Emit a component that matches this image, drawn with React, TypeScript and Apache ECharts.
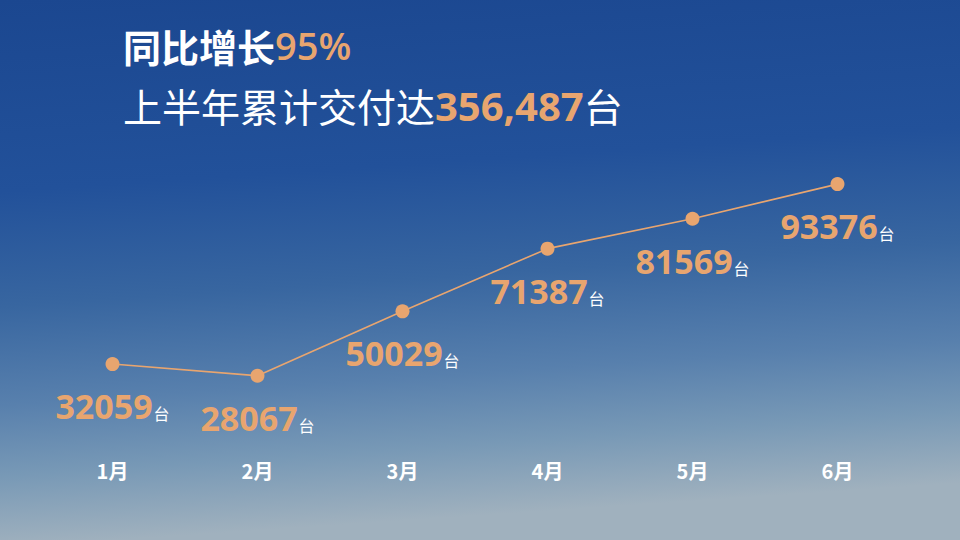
import * as echarts from 'echarts';
import { useEffect, useRef } from 'react';

const months = ['1月', '2月', '3月', '4月', '5月', '6月'];
const deliveries = [32059, 28067, 50029, 71387, 81569, 93376];
const growthRate = '95%';
const halfYearTotal = '356,487';

const orange = '#e8a56f';
const numFont = '"Open Sans", "Noto Sans", sans-serif';
const cjkFont = '"Noto Sans CJK SC", "Noto Sans", sans-serif';

export default function App() {
    const chartRef = useRef<HTMLDivElement>(null);

    useEffect(() => {
        if (!chartRef.current) return;
        document.body.style.margin = '0';

        const chart = echarts.init(chartRef.current, undefined, { renderer: 'svg' });

        const option: echarts.EChartsOption = {
            animation: false,
            backgroundColor: new echarts.graphic.LinearGradient(0, 0, 0.12, 1, [
                { offset: 0, color: '#1b4790' },
                { offset: 0.35, color: '#22519a' },
                { offset: 0.56, color: '#3866a0' },
                { offset: 0.74, color: '#5880ad' },
                { offset: 0.87, color: '#7899b6' },
                { offset: 1, color: '#a0b1be' },
            ]),
            title: [
                {
                    text: `{w|同比增长}{o|${growthRate}}`,
                    left: 118,
                    top: 21,
                    textStyle: {
                        rich: {
                            w: { color: '#ffffff', fontSize: 38, fontWeight: 'bold', fontFamily: cjkFont },
                            o: { color: orange, fontSize: 38, fontWeight: 600, fontFamily: numFont },
                        },
                    },
                },
                {
                    text: `{w|上半年累计交付达}{o|${halfYearTotal}}{w|台}`,
                    left: 118,
                    top: 80,
                    textStyle: {
                        rich: {
                            w: { color: '#ffffff', fontSize: 39, fontWeight: 'normal', fontFamily: cjkFont },
                            o: { color: orange, fontSize: 40, fontWeight: 'bold', fontFamily: numFont },
                        },
                    },
                },
            ],
            grid: { left: 40, right: 50, top: 150, bottom: 120 },
            xAxis: {
                type: 'category',
                data: months,
                boundaryGap: true,
                axisLine: { show: false },
                axisTick: { show: false },
                axisLabel: {
                    color: '#ffffff',
                    fontSize: 20,
                    fontWeight: 'bold',
                    fontFamily: cjkFont,
                    margin: 40,
                },
            },
            yAxis: {
                type: 'value',
                min: 13000,
                max: 105000,
                show: false,
                splitLine: { show: false },
            },
            series: [
                {
                    type: 'line',
                    data: deliveries,
                    symbol: 'circle',
                    symbolSize: 14,
                    itemStyle: { color: orange },
                    lineStyle: { color: orange, width: 1.6 },
                    label: {
                        show: true,
                        position: 'bottom',
                        distance: 18,
                        formatter: (p: any) => `{n|${p.value}}{u|台}`,
                        rich: {
                            n: { color: orange, fontSize: 34, fontWeight: 'bold', fontFamily: numFont },
                            u: { color: '#ffffff', fontSize: 16, fontFamily: cjkFont, verticalAlign: 'bottom', padding: [0, 0, 2, 1] },
                        },
                    },
                },
            ],
        };

        chart.setOption(option);

        return () => {
            chart.dispose();
        };
    }, []);

    return <div ref={chartRef} style={{ width: '960px', height: '540px' }} />;
}
